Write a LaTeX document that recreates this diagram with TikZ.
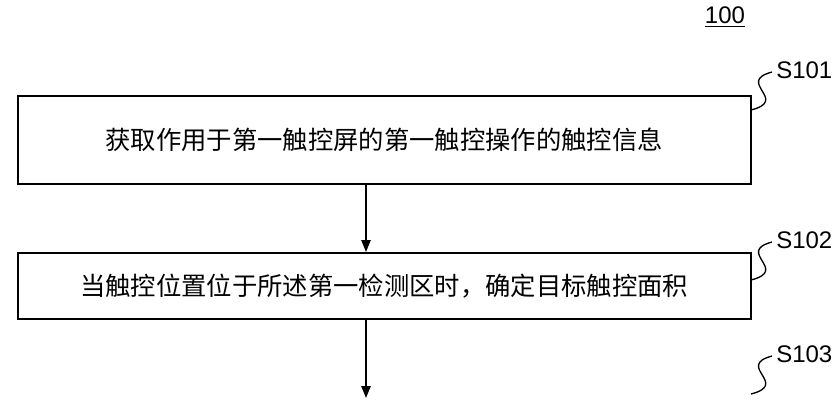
\documentclass[tikz,border=0pt]{standalone}
\usepackage{fontspec}
\setmainfont{Liberation Sans}
\newfontfamily\cjk{Noto Sans CJK SC}
\usetikzlibrary{arrows.meta}
\begin{document}
\begin{tikzpicture}[x=0.75pt,y=-0.75pt,
  stepbox/.style={draw,line width=1.2pt,minimum width=733*0.75pt,anchor=north west,font=\cjk\fontsize{19}{22}\selectfont},
  arr/.style={line width=1.2pt,-{Triangle[length=9pt,width=7pt]}},
  squig/.style={line width=1pt},
  lbl/.style={font=\fontsize{18}{20}\selectfont,anchor=west,inner sep=0pt}]
\useasboundingbox (0,0) rectangle (838,400);
\node[font=\fontsize{18}{20}\selectfont] (n100) at (725,17) {\underline{100}};
\node[stepbox,minimum height=88*0.75pt] (b1) at (17,95) {获取作用于第一触控屏的第一触控操作的触控信息};
\node[stepbox,minimum height=66*0.75pt] (b2) at (17,252) {当触控位置位于所述第一检测区时，确定目标触控面积};
\coordinate (b3) at (366,398);
\draw[arr] (b1.south -| 366,0) -- (b2.north -| 366,0);
\draw[arr] (b2.south -| 366,0) -- (b3);
\foreach \y/\t in {70/S101,240/S102,354/S103}{
  \node[lbl] (s\t) at (776,\y) {\t};
  \draw[squig] (751,\y+40) .. controls (790,\y+30) and (735,\y+12) .. (772,\y+2);
}
\end{tikzpicture}
\end{document}
